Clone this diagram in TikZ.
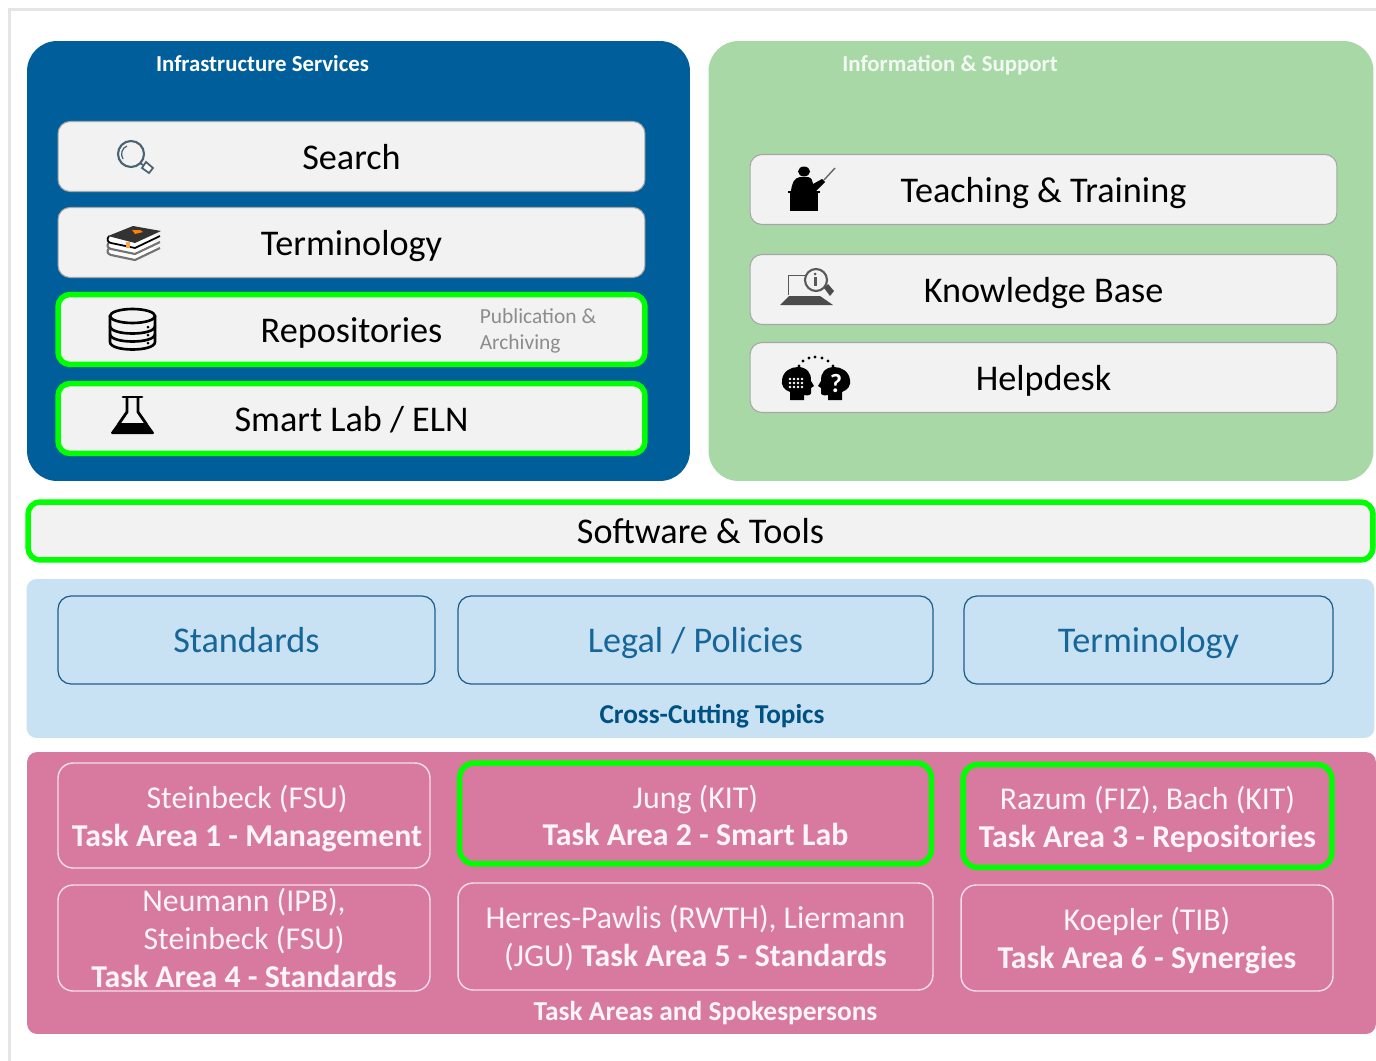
\documentclass[tikz,border=0pt]{standalone}
\usepackage{fontspec}
\setmainfont{Carlito}
\usetikzlibrary{positioning}
\definecolor{infoblue}{HTML}{005F9A}
\definecolor{supportgreen}{HTML}{A9D8A7}
\definecolor{crossblue}{HTML}{C8E2F3}
\definecolor{crossline}{HTML}{1C5F8F}
\definecolor{crosstext}{HTML}{17669A}
\definecolor{taskpink}{HTML}{D879A0}
\definecolor{cardgrey}{HTML}{F2F2F2}
\definecolor{limeline}{HTML}{00FF00}
\definecolor{lensgrey}{HTML}{4A6274}
\begin{document}
\begin{tikzpicture}[x=0.02cm,y=-0.02cm,node distance=0.32cm,
    every node/.style={outer sep=0pt,inner sep=0pt},
    panel/.style={rounded corners=0.6cm,minimum width=13.26cm,minimum height=8.8cm},
    band/.style={rounded corners=0.2cm,minimum width=26.96cm},
    card/.style={draw=black!35,fill=cardgrey,line width=0.6pt,rounded corners=0.24cm,
      minimum width=11.74cm,minimum height=1.4cm,text height=19.2pt,text depth=4.5pt,
      font=\fontsize{20.6}{24}\selectfont},
    limecard/.style={card,draw=limeline,line width=0.11cm},
    topic/.style={draw=crossline,line width=0.7pt,rounded corners=0.26cm,minimum height=1.76cm,
      text=crosstext,text height=19.2pt,text depth=4.5pt,font=\fontsize{20.6}{24}\selectfont},
    task/.style={draw=white!75!taskpink,line width=0.8pt,rounded corners=0.3cm,
      minimum width=7.44cm,minimum height=2.1cm,align=center,text=white!92!taskpink,
      font=\fontsize{18.1}{21.6}\selectfont},
    limetask/.style={task,draw=limeline,line width=0.11cm},
    title/.style={font=\fontsize{13}{15}\selectfont\bfseries}]

 \useasboundingbox (0,0) rectangle (1376,1061);
 \fill[white] (0,0) rectangle (1376,1061);
 \draw[black!10,line width=0.06cm] (1376,9.5) -- (9.5,9.5) -- (9.5,1061);

 \node[panel,fill=infoblue] (infra) at (358.5,261) {};
 \node[panel,fill=supportgreen,minimum width=13.3cm] (support) at (1041,261) {};
 \node[title,text=white] (infratitle) at (262.5,64) {Infrastructure Services};
 \node[title,text=white!85!supportgreen] (supporttitle) at (950,65) {Information \& Support};

 \node[card] (search) at (351.5,156.5) {Search};
 \node[card] (term) [below=of search] {Terminology};
 \node[limecard] (repo) at (351.5,329.5) {Repositories};
 \node[limecard] (lab) at (351.5,418.5) {Smart Lab / ELN};
 \node[align=left,text=black!45,font=\fontsize{12.2}{14.8}\selectfont] (archive) at (538,331)
   {Publication \&\\Archiving};

 \node[card] (teach) at (1043.5,189.5) {Teaching \& Training};
 \node[card] (base) at (1043.5,289.5) {Knowledge Base};
 \node[card] (help) at (1043.5,377.5) {Helpdesk};

 \node[limecard,minimum width=26.9cm,minimum height=1.16cm] (tools) at (700.5,531) {Software \& Tools};

 \node[band,fill=crossblue,minimum height=3.18cm] (cross) at (700.5,658.5) {};
 \node[topic,minimum width=7.54cm] (standards) at (246.5,640) {Standards};
 \node[topic,minimum width=9.5cm] (legal) at (695.5,640) {Legal / Policies};
 \node[topic,minimum width=7.38cm] (crossterm) at (1148.5,640) {Terminology};
 \node[title,text=infoblue!85!black,font=\fontsize{15.5}{17}\selectfont\bfseries] (crosstitle) at (712,716) {Cross-Cutting Topics};

 \node[band,fill=taskpink,minimum width=26.98cm,minimum height=5.64cm] (tasks) at (701.5,893) {};
 \node[task] (ta1) at (244,815.5) {};
 \node[align=center,text=white!92!taskpink,font=\fontsize{18.1}{21.6}\selectfont] (ta1text) at (247,818.5) {Steinbeck (FSU)\\\textbf{Task Area 1 - Management}};
 \node[limetask,minimum width=9.44cm,minimum height=2.02cm] (ta2) at (695.5,813.5) {};
 \node[align=center,text=white!92!taskpink,font=\fontsize{18.1}{21.6}\selectfont] (ta2text) at (695.5,815.5) {Jung (KIT)\\\textbf{Task Area 2 - Smart Lab}};
 \node[limetask,minimum width=7.38cm,minimum height=2.06cm] (ta3) at (1147.5,816) {};
 \node[align=center,text=white!92!taskpink,font=\fontsize{18.1}{21.6}\selectfont] (ta3text) at (1147.5,819) {Razum (FIZ), Bach (KIT)\\\textbf{Task Area 3 - Repositories}};
 \node[task,minimum height=2.12cm] (ta4) at (244,938) {};
 \node[align=center,text=white!92!taskpink,font=\fontsize{18.1}{21.6}\selectfont] (ta4text) at (244,938) {Neumann (IPB),\\Steinbeck (FSU)\\\textbf{Task Area 4 - Standards}};
 \node[task,minimum width=9.5cm,minimum height=2.14cm] (ta5) at (695.5,936.5) {};
 \node[align=center,text=white!92!taskpink,font=\fontsize{18.1}{21.6}\selectfont] (ta5text) at (695.5,938.5) {Herres-Pawlis (RWTH), Liermann\\(JGU) \textbf{Task Area 5 - Standards}};
 \node[task,minimum width=7.44cm,minimum height=2.12cm] (ta6) at (1147,938) {};
 \node[align=center,text=white!92!taskpink,font=\fontsize{18.1}{21.6}\selectfont] (ta6text) at (1147,941) {Koepler (TIB)\\\textbf{Task Area 6 - Synergies}};
 \node[title,text=white!92!taskpink,font=\fontsize{15.6}{17}\selectfont\bfseries] (tasktitle) at (705.5,1013) {Task Areas and Spokespersons};

 % search
 \draw[lensgrey,line width=1.2pt] (131,154) circle (13);
 \draw[lensgrey,line width=0.7pt] (123,159) .. controls (120,154) and (122,148) .. (127,146);
 \draw[lensgrey,line width=1pt] (140,163) -- (143,165);
 \draw[lensgrey,line width=1pt,fill=white] (142,168) -- (146,162) -- (153,168) -- (149,173) -- cycle;

 % books
 \draw[black!55,line width=1.2pt,fill=white] (109,248) .. controls (106,252) and (108,254) .. (111,255) -- (135,260) -- (160,248);
 \draw[black!55,line width=1.2pt,fill=white] (109,242) .. controls (106,246) and (108,248) .. (111,249) -- (135,254) -- (160,242);
 \draw[black,line width=1pt,fill=white] (109,236) .. controls (106,240) and (108,242) .. (111,243) -- (135,248) -- (160,236);
 \fill[black!80] (108,236) -- (133,226) -- (161,231) -- (135,243) -- cycle;
 \fill[orange] (132,230) -- (140,230) -- (143,232) -- (135,234) -- cycle;
 \fill[orange!70] (126,242) rectangle (130,248);

 % database
 \draw[black,line width=1.5pt,fill=cardgrey] (110,316) -- (110,342) .. controls (110,352) and (155,352) .. (155,342) -- (155,316);
 \draw[black,line width=1.5pt] (132.5,316) ellipse (22.5 and 7);
 \draw[black,line width=1.5pt] (110,326) .. controls (110,336) and (155,336) .. (155,326);
 \draw[black,line width=1.5pt] (110,334) .. controls (110,344) and (155,344) .. (155,334);
 \foreach \doty in {327,335,343}
   \fill (148,\doty) circle (1.5);

 % flask
 \draw[black,line width=1.6pt,line cap=round] (123,397) -- (142,397);
 \draw[black,line width=1.6pt] (127,397) -- (127,412) -- (118,425);
 \draw[black,line width=1.6pt] (138,397) -- (138,412) -- (147,425);
 \fill[black,rounded corners=1pt] (118,423) -- (147,423) -- (155,434) -- (110,434) -- cycle;

 % teacher
 \fill (804,171.5) ellipse (6 and 5);
 \fill (791,191) .. controls (792,183) and (794,178) .. (800,177) -- (808,177) .. controls (812,178) and (812,180) .. (813,184) -- (822,179) -- (825,182) -- (816,191) -- cycle;
 \draw[black!60,line width=0.8pt] (824,180) -- (835,168);
 \draw[line width=0.8pt] (788,192) -- (820,192);
 \fill (790,193) rectangle (818,211);

 % laptop
 \draw[black!65,line width=1pt] (788.5,295) -- (788.5,275.5) -- (812,275.5);
 \fill[black!70] (789,296) -- (820,296) -- (833,305) -- (780,305) -- cycle;
 \draw[black!65,line width=1.2pt,fill=cardgrey] (816,280) circle (11);
 \fill[black!65] (815,274) circle (1.5);
 \fill[black!65] (813.5,277) rectangle (816.5,286);
 \fill[black!70] (824,288) -- (828,284) -- (834,291) -- (830,296) -- cycle;

 % heads
 \foreach \dotx/\doty in {799/366,803/361,809/358,815/357,822/358,828/361,833/366}
   \fill (\dotx,\doty) circle (1.6);
 \fill (790,400) -- (790,392) .. controls (784,390) and (781,385) .. (782,380) .. controls (783,371) and (791,367) .. (798,367) .. controls (807,367) and (812,374) .. (811,381) -- (814,386) -- (811,388) -- (811,393) .. controls (811,395) and (808,396) .. (804,395) -- (804,400) -- cycle;
 \fill (1632-790,400) -- (1632-790,392) .. controls (1632-784,390) and (1632-781,385) .. (1632-782,380) .. controls (1632-783,371) and (1632-791,367) .. (1632-798,367) .. controls (1632-807,367) and (1632-812,374) .. (1632-811,381) -- (1632-814,386) -- (1632-811,388) -- (1632-811,393) .. controls (1632-811,395) and (1632-808,396) .. (1632-804,395) -- (1632-804,400) -- cycle;
 \foreach \dotx in {790,794,798,802}
   \foreach \doty in {379,383,387}
     \fill[white] (\dotx,\doty) circle (1.3);
 \node[text=white,font=\fontsize{15}{15}\selectfont\bfseries] (ask) at (836,383) {?};

\end{tikzpicture}
\end{document}
